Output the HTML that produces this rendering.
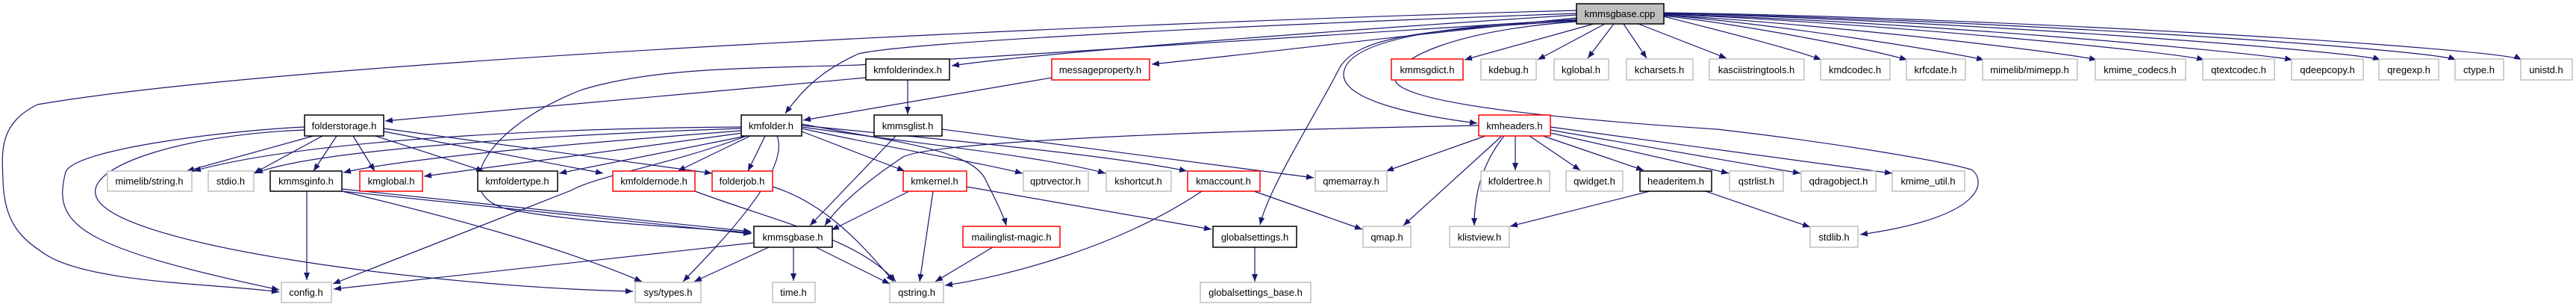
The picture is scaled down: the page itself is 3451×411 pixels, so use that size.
<!DOCTYPE html>
<html><head><meta charset="utf-8"><style>
html,body{margin:0;padding:0;background:#fff;}
svg{display:block;}
text{font-family:"Liberation Sans",sans-serif;font-size:13px;fill:#000;text-anchor:middle;}
.e{fill:none;stroke:#191970;stroke-width:1.2;marker-end:url(#a);}
.g{fill:#fff;stroke:#bfbfbf;stroke-width:1.5;}
.b{fill:#fff;stroke:#000;stroke-width:1.5;}
.r{fill:#fff;stroke:#ff0000;stroke-width:1.5;}
</style></head><body>
<svg width="3451" height="411" viewBox="0 0 3451 411" xmlns="http://www.w3.org/2000/svg">
<defs><marker id="a" markerUnits="userSpaceOnUse" markerWidth="11" markerHeight="8" refX="10" refY="4" orient="auto"><path d="M0,0 L10,4 L0,8 z" fill="#191970"/></marker></defs>
<g>
<path class="e" d="M2112,14 C1500,30 400,80 50,140 C0,165 2,200 4,240 C5,300 30,320 60,340 C120,380 300,380 374,391"/>
<path class="e" d="M2112,20 C1800,40 1400,70 1275,88"/>
<path class="e" d="M2112,24 C1900,45 1700,70 1543,86"/>
<path class="e" d="M2112,18 C1500,40 1200,60 1150,72 C1100,95 1075,120 1052,152"/>
<path class="e" d="M2112,26 C1700,50 1300,80 1150,87 C1000,92 880,90 780,120 C650,170 600,260 680,280 C780,300 950,305 1007,312"/>
<path class="e" d="M2112,28 C1900,40 1820,50 1795,90 C1765,150 1700,250 1688,301"/>
<path class="e" d="M2112,27 C1900,35 1800,60 1800,100 C1800,135 1900,155 1979,165"/>
<path class="e" d="M2112,29 C1950,40 1860,80 1870,110 C1890,140 2100,160 2300,173 C2450,190 2600,215 2641,227 C2660,240 2665,290 2492,314"/>
<path class="e" d="M2135,32 L1962,80"/>
<path class="e" d="M2150,32 L2060,80"/>
<path class="e" d="M2162,32 L2127,78"/>
<path class="e" d="M2175,32 L2206,78"/>
<path class="e" d="M2195,32 L2313,78"/>
<path class="e" d="M2229,22 C2300,40 2400,65 2440,80"/>
<path class="e" d="M2229,21 C2350,35 2500,65 2555,80"/>
<path class="e" d="M2229,20 C2400,35 2600,68 2658,80"/>
<path class="e" d="M2229,20 C2450,33 2750,68 2809,80"/>
<path class="e" d="M2229,19 C2500,30 2900,68 2953,80"/>
<path class="e" d="M2229,19 C2550,28 3000,68 3071,80"/>
<path class="e" d="M2229,18 C2600,26 3150,68 3189,80"/>
<path class="e" d="M2229,18 C2650,25 3250,65 3290,80"/>
<path class="e" d="M2229,17 C2700,24 3350,65 3378,80"/>
<path class="e" d="M1216,107 L1216,153"/>
<path class="e" d="M1160,104 L516,162"/>
<path class="e" d="M1409,104 L1076,161"/>
<path class="e" d="M1200,182 L1085,302"/>
<path class="e" d="M1262,173 L1760,238"/>
<path class="e" d="M993,170 C700,172 400,190 259,229"/>
<path class="e" d="M993,172 C750,180 420,200 342,232"/>
<path class="e" d="M993,175 C800,190 550,210 460,231"/>
<path class="e" d="M995,178 L568,236"/>
<path class="e" d="M1000,182 L749,232"/>
<path class="e" d="M1005,182 L908,229"/>
<path class="e" d="M1025,182 L1002,229"/>
<path class="e" d="M1000,182 C900,220 800,235 765,255 L446,380"/>
<path class="e" d="M1041,182 C1060,230 960,330 915,377"/>
<path class="e" d="M1074,176 L1212,229"/>
<path class="e" d="M1074,172 C1200,200 1300,215 1370,232"/>
<path class="e" d="M1074,170 C1250,195 1400,210 1481,232"/>
<path class="e" d="M1074,168 C1300,190 1500,210 1590,229"/>
<path class="e" d="M1074,166 C1200,190 1300,200 1320,240 C1335,270 1345,290 1348,302"/>
<path class="e" d="M420,182 L250,229"/>
<path class="e" d="M432,182 L340,232"/>
<path class="e" d="M451,182 L420,229"/>
<path class="e" d="M473,182 L502,229"/>
<path class="e" d="M503,182 L648,229"/>
<path class="e" d="M514,176 L808,232"/>
<path class="e" d="M514,172 L954,232"/>
<path class="e" d="M408,170 C300,175 100,200 88,230 C70,300 100,330 374,388"/>
<path class="e" d="M408,174 C250,180 120,220 128,260 C140,330 600,385 848,390"/>
<path class="e" d="M411,256 L411,375"/>
<path class="e" d="M458,256 C600,290 750,330 860,377"/>
<path class="e" d="M458,253 L1006,310"/>
<path class="e" d="M458,256 L1006,313"/>
<path class="e" d="M931,256 C1050,300 1150,320 1200,377"/>
<path class="e" d="M1035,250 C1100,270 1150,320 1197,377"/>
<path class="e" d="M1010,325 L447,387"/>
<path class="e" d="M1030,331 L930,377"/>
<path class="e" d="M1063,331 L1063,376"/>
<path class="e" d="M1093,331 L1192,380"/>
<path class="e" d="M1981,168 C1600,175 1250,190 1210,210 C1150,250 1120,280 1105,302"/>
<path class="e" d="M1990,182 L1857,229"/>
<path class="e" d="M2012,182 L1880,302"/>
<path class="e" d="M2015,182 C1985,220 1975,260 1975,302"/>
<path class="e" d="M2030,182 L2030,228"/>
<path class="e" d="M2049,182 L2117,228"/>
<path class="e" d="M2067,182 L2202,228"/>
<path class="e" d="M2077,178 L2316,232"/>
<path class="e" d="M2077,174 L2412,232"/>
<path class="e" d="M2077,170 L2535,232"/>
<path class="e" d="M2210,256 L2023,303"/>
<path class="e" d="M2285,256 L2425,304"/>
<path class="e" d="M1218,256 L1114,308"/>
<path class="e" d="M1250,256 L1232,377"/>
<path class="e" d="M1295,250 L1623,307"/>
<path class="e" d="M1330,331 L1253,377"/>
<path class="e" d="M1610,256 C1500,330 1350,370 1266,382"/>
<path class="e" d="M1680,256 L1825,307"/>
<path class="e" d="M1681,331 L1681,377"/>
</g>
<rect x="2112" y="5" width="117" height="27" fill="#bfbfbf" stroke="#000" stroke-width="1.5"/><text x="2170" y="23">kmmsgbase.cpp</text>

<rect class="b" x="1160" y="79" width="112" height="28"/><text x="1216" y="98">kmfolderindex.h</text>
<rect class="r" x="1409" y="79" width="131" height="28"/><text x="1474" y="98">messageproperty.h</text>
<rect class="r" x="1864" y="79" width="96" height="28"/><text x="1912" y="98">kmmsgdict.h</text>
<rect class="g" x="1984" y="79" width="74" height="28"/><text x="2021" y="98">kdebug.h</text>
<rect class="g" x="2082" y="79" width="73" height="28"/><text x="2118" y="98">kglobal.h</text>
<rect class="g" x="2179" y="79" width="89" height="28"/><text x="2223" y="98">kcharsets.h</text>
<rect class="g" x="2290" y="79" width="127" height="28"/><text x="2353" y="98">kasciistringtools.h</text>
<rect class="g" x="2439" y="79" width="93" height="28"/><text x="2485" y="98">kmdcodec.h</text>
<rect class="g" x="2554" y="79" width="79" height="28"/><text x="2593" y="98">krfcdate.h</text>
<rect class="g" x="2656" y="79" width="127" height="28"/><text x="2719" y="98">mimelib/mimepp.h</text>
<rect class="g" x="2807" y="79" width="121" height="28"/><text x="2867" y="98">kmime_codecs.h</text>
<rect class="g" x="2951" y="79" width="96" height="28"/><text x="2999" y="98">qtextcodec.h</text>
<rect class="g" x="3070" y="79" width="96" height="28"/><text x="3118" y="98">qdeepcopy.h</text>
<rect class="g" x="3187" y="79" width="80" height="28"/><text x="3227" y="98">qregexp.h</text>
<rect class="g" x="3289" y="79" width="65" height="28"/><text x="3321" y="98">ctype.h</text>
<rect class="g" x="3377" y="79" width="69" height="28"/><text x="3411" y="98">unistd.h</text>

<rect class="b" x="408" y="154" width="106" height="28"/><text x="461" y="173">folderstorage.h</text>
<rect class="b" x="993" y="154" width="81" height="28"/><text x="1033" y="173">kmfolder.h</text>
<rect class="b" x="1171" y="154" width="91" height="28"/><text x="1216" y="173">kmmsglist.h</text>
<rect class="r" x="1981" y="154" width="96" height="28"/><text x="2029" y="173">kmheaders.h</text>

<rect class="g" x="144" y="229" width="113" height="27"/><text x="200" y="247">mimelib/string.h</text>
<rect class="g" x="279" y="229" width="61" height="27"/><text x="309" y="247">stdio.h</text>
<rect class="b" x="362" y="229" width="96" height="27"/><text x="410" y="247">kmmsginfo.h</text>
<rect class="r" x="482" y="229" width="84" height="27"/><text x="524" y="247">kmglobal.h</text>
<rect class="b" x="640" y="229" width="107" height="27"/><text x="693" y="247">kmfoldertype.h</text>
<rect class="r" x="821" y="229" width="110" height="27"/><text x="876" y="247">kmfoldernode.h</text>
<rect class="r" x="954" y="229" width="81" height="27"/><text x="994" y="247">folderjob.h</text>
<rect class="r" x="1210" y="229" width="85" height="27"/><text x="1252" y="247">kmkernel.h</text>
<rect class="g" x="1371" y="229" width="87" height="27"/><text x="1414" y="247">qptrvector.h</text>
<rect class="g" x="1482" y="229" width="87" height="27"/><text x="1525" y="247">kshortcut.h</text>
<rect class="r" x="1591" y="229" width="97" height="27"/><text x="1639" y="247">kmaccount.h</text>
<rect class="g" x="1762" y="229" width="96" height="27"/><text x="1810" y="247">qmemarray.h</text>
<rect class="g" x="1984" y="229" width="92" height="27"/><text x="2030" y="247">kfoldertree.h</text>
<rect class="g" x="2098" y="229" width="76" height="27"/><text x="2136" y="247">qwidget.h</text>
<rect class="b" x="2197" y="229" width="96" height="27"/><text x="2245" y="247">headeritem.h</text>
<rect class="g" x="2317" y="229" width="72" height="27"/><text x="2353" y="247">qstrlist.h</text>
<rect class="g" x="2413" y="229" width="100" height="27"/><text x="2463" y="247">qdragobject.h</text>
<rect class="g" x="2535" y="229" width="97" height="27"/><text x="2583" y="247">kmime_util.h</text>

<rect class="b" x="1010" y="303" width="105" height="28"/><text x="1062" y="322">kmmsgbase.h</text>
<rect class="r" x="1290" y="303" width="130" height="28"/><text x="1355" y="322">mailinglist-magic.h</text>
<rect class="b" x="1625" y="303" width="112" height="28"/><text x="1681" y="322">globalsettings.h</text>
<rect class="g" x="1826" y="303" width="64" height="28"/><text x="1858" y="322">qmap.h</text>
<rect class="g" x="1942" y="303" width="80" height="28"/><text x="1982" y="322">klistview.h</text>
<rect class="g" x="2425" y="303" width="64" height="28"/><text x="2457" y="322">stdlib.h</text>

<rect class="g" x="377" y="378" width="67" height="27"/><text x="410" y="396">config.h</text>
<rect class="g" x="851" y="378" width="88" height="27"/><text x="895" y="396">sys/types.h</text>
<rect class="g" x="1035" y="378" width="57" height="27"/><text x="1063" y="396">time.h</text>
<rect class="g" x="1192" y="378" width="72" height="27"/><text x="1228" y="396">qstring.h</text>
<rect class="g" x="1608" y="378" width="148" height="27"/><text x="1682" y="396">globalsettings_base.h</text>
</svg>
</body></html>
